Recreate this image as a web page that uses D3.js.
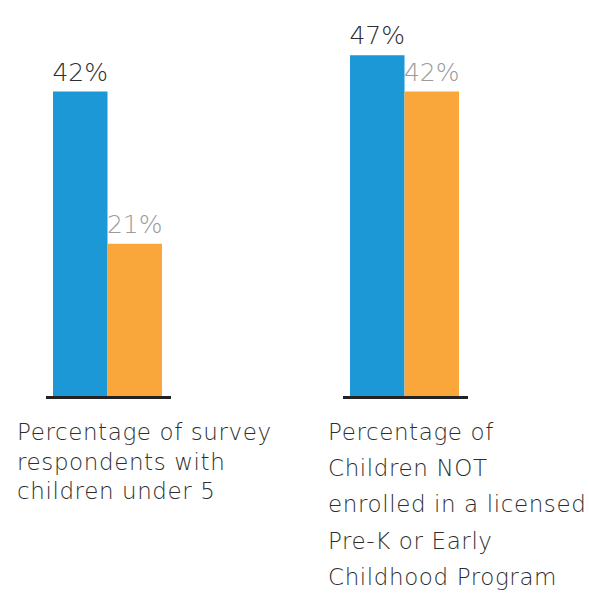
<!DOCTYPE html>
<html>
<head>
<meta charset="utf-8">
<script src="https://cdn.jsdelivr.net/npm/d3@7"></script>
<style>
  html, body { margin: 0; padding: 0; background: #fff; }
  svg { display: block; }
  text { font-family: "DejaVu Sans", sans-serif; font-weight: 200; }
</style>
</head>
<body>
<svg id="chart" width="589" height="597"></svg>
<script>
// ---- data ----
const categories = ["Respondents", "NotEnrolled"];
const categoryLines = [
  ["Percentage of survey", "respondents with", "children under 5"],
  ["Percentage of", "Children NOT", "enrolled in a licensed", "Pre-K or Early", "Childhood Program"]
];
const series = ["A", "B"];
const seriesA = [42, 47];
const seriesB = [21, 42];
const valueLabelsA = ["42%", "47%"];
const valueLabelsB = ["21%", "42%"];

// ---- drawing ----
const svg = d3.select("#chart");
const baseY = 396;

const x = d3.scaleBand().domain(categories).range([53, 459]).paddingInner(0.633).paddingOuter(0);
const xi = d3.scaleBand().domain(series).range([0, x.bandwidth()]).padding(0);
const y = d3.scaleLinear().domain([0, 50]).range([baseY, baseY - 50 * 7.25]);

const colors = { A: "#1b98d5", B: "#f9a63a" };
const labelColors = { A: "#2e2e2e", B: "#9b9b9b" };

const rows = [];
categories.forEach((c, i) => {
  rows.push({ cat: c, s: "A", v: seriesA[i], label: valueLabelsA[i] });
  rows.push({ cat: c, s: "B", v: seriesB[i], label: valueLabelsB[i] });
});

svg.selectAll("rect.bar").data(rows).enter().append("rect")
  .attr("class", "bar")
  .attr("x", d => x(d.cat) + xi(d.s))
  .attr("width", xi.bandwidth())
  .attr("y", d => y(d.v))
  .attr("height", d => baseY - y(d.v))
  .attr("fill", d => colors[d.s]);

svg.selectAll("text.val").data(rows).enter().append("text")
  .attr("class", "val")
  .attr("x", d => x(d.cat) + xi(d.s) + xi.bandwidth() / 2)
  .attr("y", d => y(d.v) - 11)
  .attr("text-anchor", "middle")
  .attr("font-size", 25)
  .attr("fill", d => labelColors[d.s])
  .text(d => d.label);

// baselines
svg.selectAll("line.base").data(categories).enter().append("line")
  .attr("class", "base")
  .attr("x1", d => x(d) - 7)
  .attr("x2", d => x(d) + x.bandwidth() + 9)
  .attr("y1", baseY + 1.5)
  .attr("y2", baseY + 1.5)
  .attr("stroke", "#222")
  .attr("stroke-width", 3);

// category labels
const labelDx = [-36, -22];
const labelLH = [29.5, 36.2];
categories.forEach((c, i) => {
  const t = svg.append("text")
    .attr("x", x(c) + labelDx[i])
    .attr("y", 440)
    .attr("font-size", 23)
    .attr("letter-spacing", 0.6)
    .attr("fill", "#2e2e2e");
  categoryLines[i].forEach((ln, j) => {
    t.append("tspan").attr("x", x(c) + labelDx[i]).attr("y", 440 + j * labelLH[i]).text(ln);
  });
});
</script>
</body>
</html>
